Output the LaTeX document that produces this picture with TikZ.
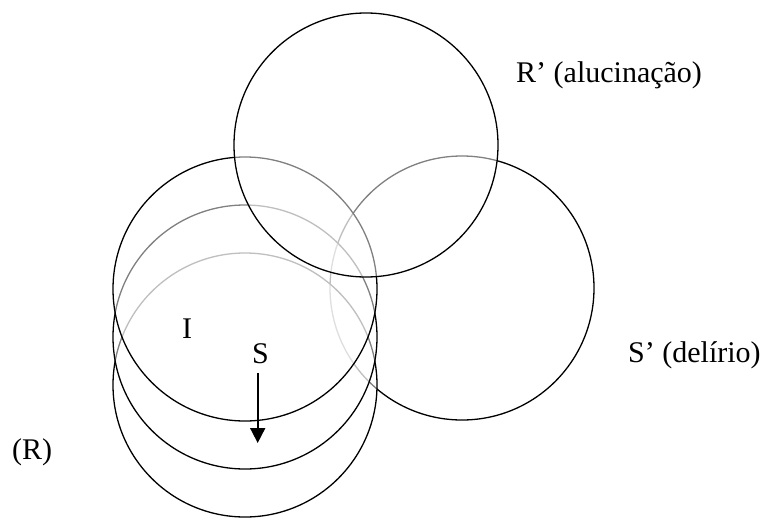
\documentclass[tikz,border=0pt]{standalone}
\usepackage{fontspec}
\setmainfont{Liberation Serif}
\usetikzlibrary{arrows.meta}

\tikzset{
  ring/.style={circle, draw=black, line width=1.3pt, fill=white, fill opacity=0.5,
    draw opacity=1, minimum size=264pt, inner sep=0pt, outer sep=0pt},
  lbl/.style={anchor=base west, inner sep=0pt, font=\fontsize{30}{35}\selectfont},
  pointer/.style={line width=1.8pt, -{Triangle[width=15pt,length=15pt]}}
}

\begin{document}
\begin{tikzpicture}[x=1pt, y=-1pt]
      \useasboundingbox (0,0) rectangle (773,519);

      % 1. the circles, drawn from back to front
      \node[ring] (Sp) at (462,288) {};
      \node[ring] (R3) at (245,385) {};
      \node[ring] (R2) at (245,337) {};
      \node[ring] (R1) at (245,289) {};
      \node[ring] (Rp) at (366,145) {};

      % 2. labels
      \node[lbl] (alucinacao) at (516,82) {R’ (alucinação)};
      \node[lbl] (delirio) at (628,362) {S’ (delírio)};
      \node[lbl] (Rlbl) at (12,459) {(R)};
      \node[lbl] (I) at (182,338) {I};
      \node[lbl] (S) at (252,363) {S};

      % 3. the arrow under S
      \coordinate (tip) at (257.7,443);
      \draw[pointer] (S.south -| tip) ++(0,10) -- (tip);
\end{tikzpicture}
\end{document}
